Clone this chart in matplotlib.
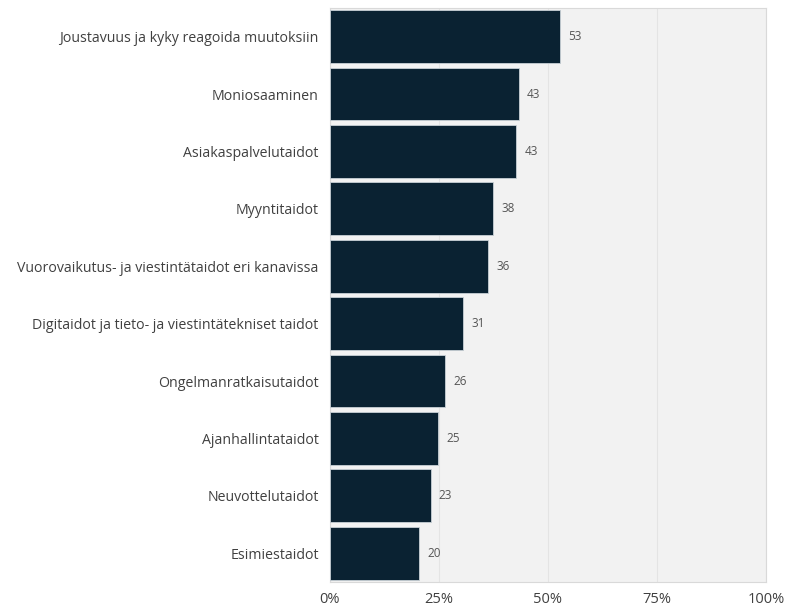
import matplotlib
matplotlib.use('Agg')
import matplotlib.pyplot as plt
import numpy as np

# data
categories = ['Joustavuus ja kyky reagoida muutoksiin', 'Moniosaaminen', 'Asiakaspalvelutaidot',
              'Myyntitaidot', 'Vuorovaikutus- ja viestintätaidot eri kanavissa',
              'Digitaidot ja tieto- ja viestintätekniset taidot', 'Ongelmanratkaisutaidot',
              'Ajanhallintataidot', 'Neuvottelutaidot', 'Esimiestaidot']
values = [52.7, 43.3, 42.7, 37.5, 36.3, 30.6, 26.4, 24.9, 23.1, 20.4]
value_labels = ['53', '43', '43', '38', '36', '31', '26', '25', '23', '20']
xticks = [0, 25, 50, 75, 100]
xtick_labels = ['0%', '25%', '50%', '75%', '100%']

plt.rcParams['font.family'] = ['Open Sans', 'DejaVu Sans']

fig = plt.figure(figsize=(7.89, 6.12), dpi=100)
ax = fig.add_axes([0.418, 0.049, 0.553, 0.938])

ax.set_facecolor('#f2f2f2')
y = np.arange(len(categories))
ax.barh(y, values, height=0.92, color='#0a2232', edgecolor='#c8d0d6', linewidth=0.6, zorder=3)
for yi, v, lab in zip(y, values, value_labels):
    ax.text(v + 1.9, yi, lab, va='center', ha='left', fontsize=8.5, color='#555555', zorder=4)

ax.set_xlim(0, 100)
ax.set_ylim(len(categories) - 0.5, -0.5)
ax.set_yticks(y)
ax.set_yticklabels(categories, fontsize=10.2, color='#404040')
ax.set_xticks(xticks)
ax.set_xticklabels(xtick_labels, fontsize=10.5, color='#404040')
ax.tick_params(axis='both', length=0)
ax.tick_params(axis='x', pad=7)
ax.tick_params(axis='y', pad=8)
ax.grid(axis='x', color='#e4e4e4', linewidth=0.8, zorder=0)
for s in ax.spines.values():
    s.set_color('#d9d9d9')
    s.set_linewidth(0.8)

fig.savefig('out.png', dpi=100)
